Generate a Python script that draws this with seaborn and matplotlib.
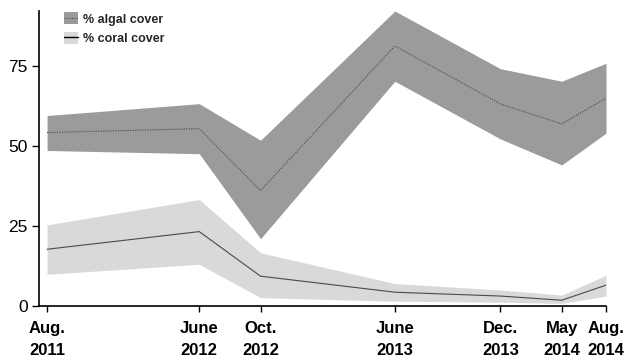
import matplotlib
matplotlib.use("Agg")
import matplotlib.pyplot as plt
from matplotlib.patches import Patch
from matplotlib.lines import Line2D
from matplotlib.legend_handler import HandlerTuple
import seaborn as sns
import pandas as pd

# Sampling surveys (position along a monthly time axis, Aug. 2011 = 0)
survey_labels = ["Aug.\n2011", "June\n2012", "Oct.\n2012", "June\n2013",
                 "Dec.\n2013", "May\n2014", "Aug.\n2014"]
survey_pos = [0, 9.8, 13.75, 22.4, 29.2, 33.15, 36]

# % algal cover: mean and band limits
algal_mean = [54.1, 55.3, 36.0, 81.1, 63.0, 56.8, 64.8]
algal_upper = [59.4, 63.1, 51.7, 92.0, 74.0, 70.1, 75.7]
algal_lower = [48.5, 47.5, 21.0, 70.1, 52.1, 44.0, 53.9]

# % coral cover: mean and band limits
coral_mean = [17.7, 23.2, 9.3, 4.3, 3.1, 1.8, 6.5]
coral_upper = [25.3, 33.2, 16.6, 7.0, 5.0, 3.4, 9.6]
coral_lower = [9.9, 13.0, 2.6, 1.5, 1.2, 0.8, 3.1]

ALGAL_FILL = "#9a9b9a"
CORAL_FILL = "#d8d9d8"
LINE_COL = "#4a4a4a"

sns.set_style("ticks")
plt.rcParams["font.family"] = ["Liberation Sans", "DejaVu Sans"]

df = pd.DataFrame({
    "pos": survey_pos * 2,
    "cover": algal_mean + coral_mean,
    "group": ["algal"] * len(survey_pos) + ["coral"] * len(survey_pos),
})

fig = plt.figure(figsize=(6.32, 3.63), dpi=100)
ax = fig.add_axes([39 / 632, 1 - 306 / 363, (606 - 39) / 632, (306 - 11) / 363])

ax.fill_between(survey_pos, algal_lower, algal_upper, color=ALGAL_FILL, lw=0, zorder=1)
ax.fill_between(survey_pos, coral_lower, coral_upper, color=CORAL_FILL, lw=0, zorder=1)

sns.lineplot(data=df, x="pos", y="cover", hue="group", style="group",
             palette={"algal": LINE_COL, "coral": LINE_COL},
             dashes={"algal": (1, 1.2), "coral": ""},
             linewidth=0.8, legend=False, ax=ax, zorder=3)

ax.set_xlim(-0.52, 36)
ax.set_ylim(0, 92)
ax.set_yticks([0, 25, 50, 75])
ax.set_xticks(survey_pos)
ax.set_xticklabels(survey_labels, fontweight="bold", fontsize=12, linespacing=1.6)
ax.set_xlabel("")
ax.set_ylabel("")
ax.tick_params(axis="y", labelsize=12.5, length=5, width=1, pad=3, colors="black")
ax.tick_params(axis="x", length=4, width=1, pad=6.5, colors="black")
for side in ("left", "bottom"):
    ax.spines[side].set_linewidth(1.2)
    ax.spines[side].set_color("black")
sns.despine(ax=ax)

handles = [
    (Patch(facecolor=ALGAL_FILL, edgecolor="none"),
     Line2D([], [], color=LINE_COL, lw=0.8, dashes=(1, 1.2))),
    (Patch(facecolor=CORAL_FILL, edgecolor="none"),
     Line2D([], [], color="black", lw=1.0)),
]
ax.legend(handles, ["% algal cover", "% coral cover"],
          handler_map={tuple: HandlerTuple(ndivide=1, pad=0)},
          loc="upper left", bbox_to_anchor=(0.044, 0.995), frameon=False,
          prop={"weight": "bold", "size": 9}, handlelength=1.1, handleheight=1.1,
          handletextpad=0.45, labelspacing=0.5, borderpad=0, borderaxespad=0)

fig.savefig("out.png", dpi=100)
